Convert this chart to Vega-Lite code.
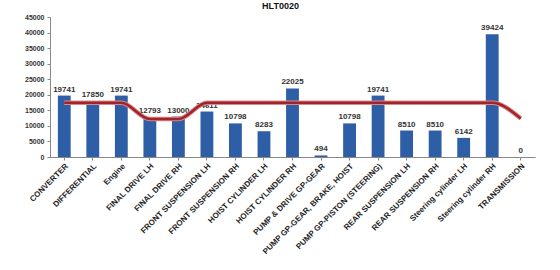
{
  "$schema": "https://vega.github.io/schema/vega-lite/v6.json",
  "autosize": "none",
  "width": 485,
  "height": 140,
  "padding": {"left": 50, "top": 17, "right": 25, "bottom": 113},
  "background": "white",
  "title": {"text": "HLT0020", "fontSize": 9, "fontWeight": "bold", "font": "Liberation Sans", "color": "#111", "offset": 2, "dx": -12},
  "config": {"view": {"stroke": null}, "font": "Liberation Sans",
    "axisY": {"format": "d", "grid": false, "labelFontSize": 7, "labelFontWeight": "bold", "labelColor": "#333", "tickSize": 3, "tickColor": "#888", "domainColor": "#888", "labelPadding": 3, "labelOverlap": false, "title": null}
  },
  "data": {"values": [
    {"part": "CONVERTER", "value": 19741, "target": 17400},
    {"part": "DIFFERENTIAL", "value": 17850, "target": 17400},
    {"part": "Engine", "value": 19741, "target": 17400},
    {"part": "FINAL DRIVE LH", "value": 12793, "target": 12200},
    {"part": "FINAL DRIVE RH", "value": 13000, "target": 12200},
    {"part": "FRONT SUSPENSION LH", "value": 14611, "target": 17400},
    {"part": "FRONT SUSPENSION RH", "value": 10798, "target": 17400},
    {"part": "HOIST CYLINDER LH", "value": 8283, "target": 17400},
    {"part": "HOIST CYLINDER RH", "value": 22025, "target": 17400},
    {"part": "PUMP & DRIVE GP-GEAR", "value": 494, "target": 17400},
    {"part": "PUMP GP-GEAR, BRAKE, HOIST", "value": 10798, "target": 17400},
    {"part": "PUMP GP-PISTON (STEERING)", "value": 19741, "target": 17400},
    {"part": "REAR SUSPENSION LH", "value": 8510, "target": 17400},
    {"part": "REAR SUSPENSION RH", "value": 8510, "target": 17400},
    {"part": "Steering cylinder LH", "value": 6142, "target": 17400},
    {"part": "Steering cylinder RH", "value": 39424, "target": 17400},
    {"part": "TRANSMISSION", "value": 0, "target": 12400}
  ]},
  "encoding": {
    "x": {"field": "part", "type": "nominal", "sort": null, "title": null,
      "scale": {"paddingInner": 0.55, "paddingOuter": 0.275},
      "axis": {"labelAngle": -45, "labelAlign": "right", "labelBaseline": "top", "labelFontSize": 8, "labelFontWeight": "bold", "labelColor": "#222", "tickSize": 3, "tickColor": "#888", "domainColor": "#888", "labelPadding": 2, "labelOverlap": false}}
  },
  "layer": [
    {
      "mark": {"type": "bar", "color": "#2e5ea6"},
      "encoding": {
        "y": {"field": "value", "type": "quantitative", "title": null,
          "scale": {"domain": [0, 45000], "nice": false},
          "axis": {"tickCount": 10, "values": [0,5000,10000,15000,20000,25000,30000,35000,40000,45000]}}
      }
    },
    {
      "mark": {"type": "text", "dy": -6, "fontSize": 8, "fontWeight": "bold", "color": "#333"},
      "encoding": {
        "y": {"field": "value", "type": "quantitative", "title": null, "axis": {"tickCount": 10, "values": [0,5000,10000,15000,20000,25000,30000,35000,40000,45000]}},
        "text": {"field": "value", "type": "quantitative", "format": "d"}
      }
    },
    {
      "mark": {"type": "line", "color": "#d98a8a", "strokeWidth": 4.5, "interpolate": "monotone"},
      "encoding": {"y": {"field": "target", "type": "quantitative", "title": null, "axis": {"tickCount": 10, "values": [0,5000,10000,15000,20000,25000,30000,35000,40000,45000]}}}
    },
    {
      "mark": {"type": "line", "color": "#a3232b", "strokeWidth": 2.5, "interpolate": "monotone"},
      "encoding": {"y": {"field": "target", "type": "quantitative", "title": null, "axis": {"tickCount": 10, "values": [0,5000,10000,15000,20000,25000,30000,35000,40000,45000]}}}
    }
  ]
}
